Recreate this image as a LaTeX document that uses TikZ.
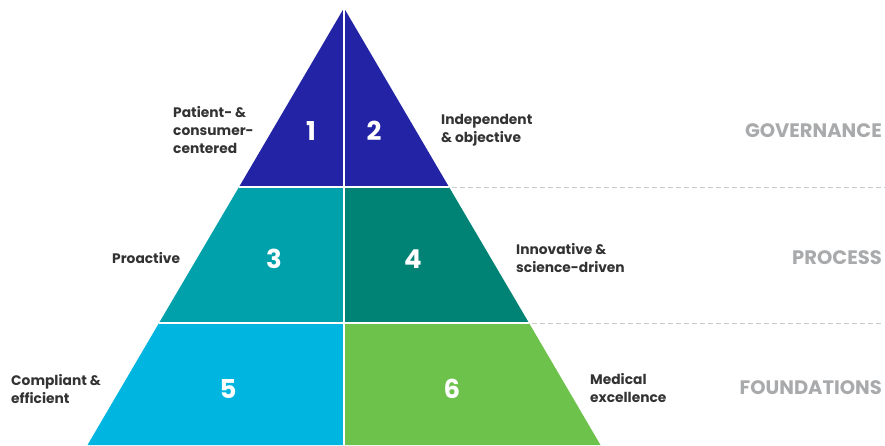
\documentclass[tikz,border=0pt]{standalone}
\usepackage{fontspec}
\setmainfont{Poppins}
\definecolor{tierone}{HTML}{2323A6}
\definecolor{tierthree}{HTML}{00A1AB}
\definecolor{tierfour}{HTML}{008374}
\definecolor{tierfive}{HTML}{00B6E0}
\definecolor{tiersix}{HTML}{6CC24A}
\definecolor{textdark}{HTML}{333333}
\definecolor{levelgray}{HTML}{A9AAAC}
\begin{document}
\begin{tikzpicture}[x=1pt,y=-1pt,
    trait/.style={font=\fontsize{13.8}{18}\selectfont\bfseries,
      text=textdark,align=left,anchor=west,inner sep=0pt},
    num/.style={font=\fontsize{26}{26}\selectfont\bfseries,
      text=white,inner sep=0pt},
    level/.style={font=\fontsize{19.5}{20}\selectfont\bfseries,
      text=levelgray,anchor=east,inner sep=0pt},
    sep/.style={white,line width=1.6pt},
    guide/.style={levelgray!60,dash pattern=on 5pt off 3pt,line width=0.8pt}]
  \useasboundingbox (0,0) rectangle (885,445);
  % corners of the tiers
  \coordinate (apex) at (344,8);
  \coordinate (gl) at (239,187);
  \coordinate (gm) at (344,187);
  \coordinate (gr) at (449,187);
  \coordinate (pl) at (159,323);
  \coordinate (pm) at (344,323);
  \coordinate (pr) at (529,323);
  \coordinate (fl) at (87.5,445);
  \coordinate (fm) at (344,445);
  \coordinate (fr) at (600.5,445);
  \fill[tierone] (apex) -- (gl) -- (gr) -- cycle;
  \fill[tierthree] (gl) -- (gm) -- (pm) -- (pl) -- cycle;
  \fill[tierfour] (gm) -- (gr) -- (pr) -- (pm) -- cycle;
  \fill[tierfive] (pl) -- (pm) -- (fm) -- (fl) -- cycle;
  \fill[tiersix] (pm) -- (pr) -- (fr) -- (fm) -- cycle;
  \draw[sep] (apex) -- (fm);
  \draw[sep] (gl) -- (gr);
  \draw[sep] (pl) -- (pr);
  % dashed guides
  \coordinate (ge) at (885,187);
  \coordinate (pe) at (882,323);
  \draw[guide] ([xshift=3pt]gr) -- (ge);
  \draw[guide] ([xshift=3pt]pr) -- (pe);
  % numbers
  \node[num] (n1) at (311,131) {1};
  \node[num] (n2) at (374,131) {2};
  \node[num] (n3) at (274,259) {3};
  \node[num] (n4) at (413,259) {4};
  \node[num] (n5) at (228,389) {5};
  \node[num] (n6) at (452,389) {6};
  % traits
  \node[trait] (patient) at (173,130) {Patient- \&\\consumer-\\centered};
  \node[trait] (indep) at (441,130) {Independent\\\& objective};
  \node[trait] (proact) at (112,258) {Proactive};
  \node[trait] (innov) at (516,258) {Innovative \&\\science-driven};
  \node[trait] (compl) at (11,389) {Compliant \&\\efficient};
  \node[trait] (medic) at (590,388) {Medical\\excellence};
  % levels
  \node[level] (gov) at (882,131) {GOVERNANCE};
  \node[level] (proc) at (882,258) {PROCESS};
  \node[level] (found) at (882,388) {FOUNDATIONS};
\end{tikzpicture}
\end{document}
